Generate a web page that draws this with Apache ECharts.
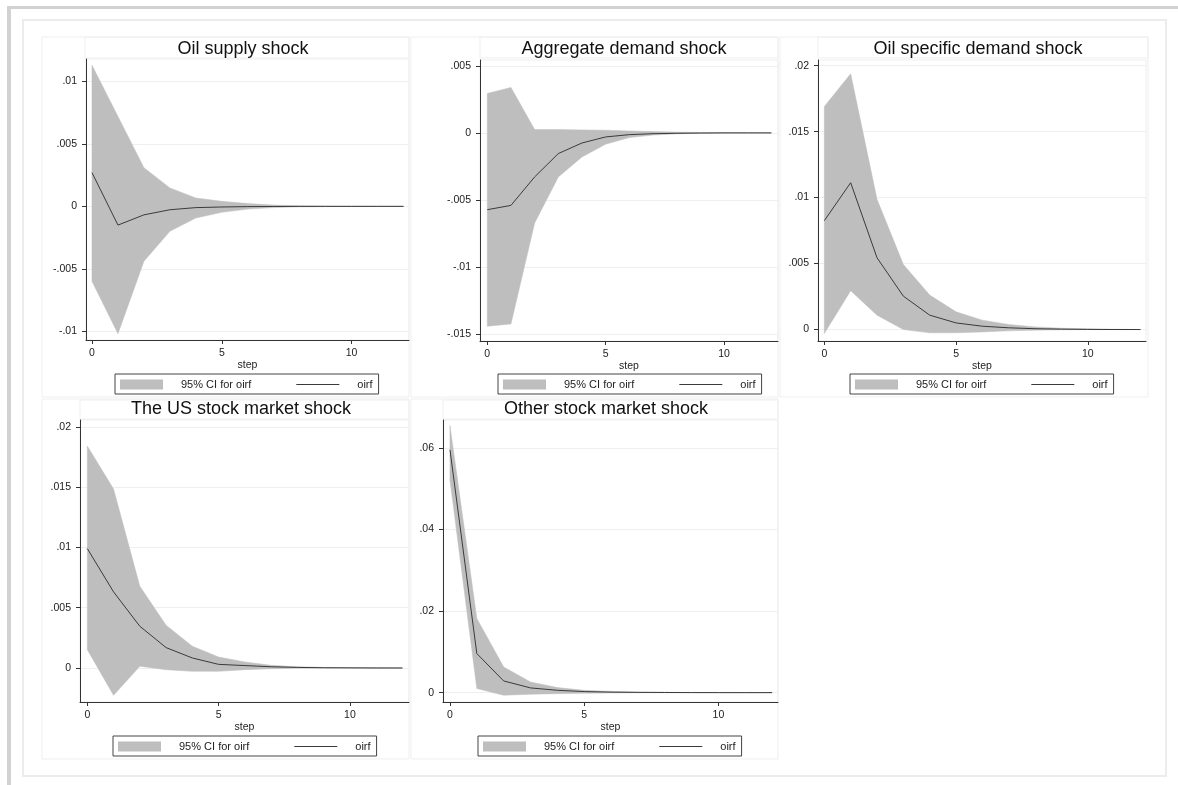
<!DOCTYPE html>
<html>
<head>
<meta charset="utf-8">
<script src="https://cdn.jsdelivr.net/npm/echarts@6/dist/echarts.min.js"></script>
<style>
  html, body { margin: 0; padding: 0; background: #fff; }
  #chart { width: 1178px; height: 785px; }
</style>
</head>
<body>
<div id="chart"></div>
<script>
// steps of the impulse response
const steps = [0, 1, 2, 3, 4, 5, 6, 7, 8, 9, 10, 11, 12]

const titles = [
  'Oil supply shock',
  'Aggregate demand shock',
  'Oil specific demand shock',
  'The US stock market shock',
  'Other stock market shock',
]

// oirf + 95% CI
const supplyIrf = [0.0027, -0.0015, -0.00068, -0.00027, -0.0001, -0.00005, -0.00002, -0.00001, 0, 0, 0, 0, 0]
const supplyHi = [0.0113, 0.0072, 0.0031, 0.00148, 0.00067, 0.0004, 0.00022, 0.0001, 0.00005, 0.00003, 0.00002, 0.00001, 0]
const supplyLo = [-0.006, -0.0102, -0.0044, -0.002, -0.00093, -0.00048, -0.00022, -0.0001, -0.00004, -0.00002, -0.00001, 0, 0]

const aggIrf = [-0.00572, -0.0054, -0.00328, -0.00154, -0.00075, -0.0003, -0.00013, -0.00006, -0.00003, -0.00001, 0, 0, 0]
const aggHi = [0.00294, 0.00339, 0.00025, 0.00025, 0.00022, 0.0002, 0.00014, 0.0001, 0.00006, 0.00003, 0.00001, 0, 0]
const aggLo = [-0.0144, -0.01423, -0.00672, -0.00328, -0.00179, -0.00084, -0.00035, -0.00016, -0.00007, -0.00003, -0.00001, 0, 0]

const oilDemIrf = [0.00825, 0.01113, 0.00544, 0.00253, 0.00109, 0.0005, 0.00025, 0.00013, 0.00006, 0.00003, 0.00001, 0, 0]
const oilDemHi = [0.0169, 0.01938, 0.00987, 0.00493, 0.00261, 0.00134, 0.00071, 0.00038, 0.0002, 0.0001, 0.00005, 0.00002, 0]
const oilDemLo = [-0.0003, 0.00294, 0.00109, 0, -0.00025, -0.00025, -0.00018, -0.0001, -0.00005, -0.00002, 0, 0, 0]

const usIrf = [0.0099, 0.00631, 0.00346, 0.00169, 0.00083, 0.0003, 0.0002, 0.0001, 0.00005, 0.00002, 0.00001, 0, 0]
const usHi = [0.0184, 0.01483, 0.00678, 0.00354, 0.0018, 0.00091, 0.0005, 0.00022, 0.0001, 0.00005, 0.00002, 0.00001, 0]
const usLo = [0.00152, -0.00227, 0.00014, -0.00014, -0.00028, -0.00028, -0.00014, -0.00006, -0.00002, -0.00001, 0, 0, 0]

const otherIrf = [0.0595, 0.00957, 0.00286, 0.00115, 0.00057, 0.00025, 0.00012, 0.00006, 0.00003, 0.00001, 0, 0, 0]
const otherHi = [0.0654, 0.01816, 0.0063, 0.0026, 0.00123, 0.00057, 0.0003, 0.00015, 0.00008, 0.00004, 0.00002, 0.00001, 0]
const otherLo = [0.0521, 0.001, -0.00065, -0.0004, -0.00025, -0.00016, -0.00008, -0.00004, -0.00002, -0.00001, 0, 0, 0]

const xTicks = [0, 5, 10]
const yTicks = [
  [-0.01, -0.005, 0, 0.005, 0.01],
  [-0.015, -0.01, -0.005, 0, 0.005],
  [0, 0.005, 0.01, 0.015, 0.02],
  [0, 0.005, 0.01, 0.015, 0.02],
  [0, 0.02, 0.04, 0.06],
]

const irfs = [supplyIrf, aggIrf, oilDemIrf, usIrf, otherIrf]
const his = [supplyHi, aggHi, oilDemHi, usHi, otherHi]
const los = [supplyLo, aggLo, oilDemLo, usLo, otherLo]

// layout of each panel (pixels) and axis extents
const layout = [
  { panel: [42, 37, 367, 360], tbox: [85, 37, 324, 21], tx: 243, ty: 39, grid: [86, 59, 323, 281], xr: [-0.231, 12.21], yr: [-0.0107, 0.0118], leg: [115, 374] },
  { panel: [411, 37, 367, 360], tbox: [480, 37, 298, 21], tx: 624, ty: 39, grid: [480, 60, 298, 281], xr: [-0.308, 12.28], yr: [-0.0155, 0.00543], leg: [498, 374] },
  { panel: [780, 37, 368, 360], tbox: [818, 37, 330, 21], tx: 978, ty: 39, grid: [818, 60, 328, 281], xr: [-0.24, 12.21], yr: [-0.00087, 0.02043], leg: [850, 374] },
  { panel: [42, 399, 367, 360], tbox: [80, 400, 329, 19], tx: 241, ty: 399, grid: [80, 420, 329, 282], xr: [-0.278, 12.25], yr: [-0.00282, 0.02056], leg: [113, 736] },
  { panel: [411, 399, 367, 360], tbox: [443, 400, 335, 19], tx: 606, ty: 399, grid: [443, 420, 335, 282], xr: [-0.26, 12.22], yr: [-0.0023, 0.0668], leg: [478, 736] },
]

const FONT = 'Liberation Sans, Arial, sans-serif'
const BAND = '#bebebe'
const LINE = '#3a3a3a'
const CI_NAME = '95% CI for oirf'

function fmtTick(v) {
  if (v === 0) return '0'
  return String(v).replace('0.', '.')
}

// whole CI band as one polygon: upper edge forward, lower edge back
function bandRenderer(lo, hi) {
  return function (params, api) {
    if (params.dataIndex !== 0) return null
    const pts = []
    steps.forEach((s, k) => pts.push(api.coord([s, hi[k]])))
    for (let k = steps.length - 1; k >= 0; k--) pts.push(api.coord([steps[k], lo[k]]))
    return {
      type: 'polygon',
      shape: { points: pts },
      style: { fill: BAND, stroke: BAND, lineWidth: 0.5 },
    }
  }
}

const grid = [], xAxis = [], yAxis = [], series = [], title = [], legend = [], graphic = []

// stata-like frame
graphic.push({ type: 'rect', shape: { x: 7, y: 6, width: 1171, height: 3 }, style: { fill: '#d2d2d2' }, silent: true })
graphic.push({ type: 'rect', shape: { x: 7, y: 6, width: 4, height: 779 }, style: { fill: '#d2d2d2' }, silent: true })
graphic.push({ type: 'rect', shape: { x: 23, y: 20, width: 1143, height: 756 }, style: { fill: 'none', stroke: '#ececec', lineWidth: 2 }, silent: true })

layout.forEach((L, i) => {
  graphic.push({ type: 'rect', shape: { x: L.panel[0], y: L.panel[1], width: L.panel[2], height: L.panel[3] }, style: { fill: 'none', stroke: '#efefef', lineWidth: 1 }, silent: true })
  graphic.push({ type: 'rect', shape: { x: L.tbox[0], y: L.tbox[1], width: L.tbox[2], height: L.tbox[3] }, style: { fill: 'none', stroke: '#efefef', lineWidth: 1 }, silent: true })

  grid.push({ left: L.grid[0], top: L.grid[1], width: L.grid[2], height: L.grid[3], show: true, borderColor: '#eeeeee', borderWidth: 1, backgroundColor: '#fff' })

  xAxis.push({
    type: 'value', gridIndex: i, min: L.xr[0], max: L.xr[1],
    name: 'step', nameLocation: 'middle', nameGap: 17,
    nameTextStyle: { fontFamily: FONT, fontSize: 10.5, color: '#222' },
    axisLine: { show: true, onZero: false, lineStyle: { color: '#333', width: 1 } },
    axisTick: { show: true, length: 4, customValues: xTicks, lineStyle: { color: '#333' } },
    axisLabel: { customValues: xTicks, margin: 8, fontFamily: FONT, fontSize: 10.5, color: '#222' },
    splitLine: { show: false },
  })

  yAxis.push({
    type: 'value', gridIndex: i, min: L.yr[0], max: L.yr[1],
    axisLine: { show: true, onZero: false, lineStyle: { color: '#333', width: 1 } },
    axisTick: { show: true, length: 4, customValues: yTicks[i], lineStyle: { color: '#333' } },
    axisLabel: { customValues: yTicks[i], margin: 9, fontFamily: FONT, fontSize: 10.5, color: '#222', formatter: fmtTick },
    splitLine: { show: true, lineStyle: { color: '#eef0f0', width: 1 } },
  })

  title.push({
    text: titles[i], left: L.tx, top: L.ty + 1, textAlign: 'center', padding: 0,
    textStyle: { fontFamily: FONT, fontSize: 18, fontWeight: 'normal', color: '#111' },
  })

  legend.push({
    left: L.leg[0], top: L.leg[1], orient: 'horizontal',
    selectedMode: false,
    padding: [5, 6, 4, 5],
    borderColor: '#444', borderWidth: 1, backgroundColor: '#fff',
    itemWidth: 43, itemHeight: 10, itemGap: 45,
    textStyle: { fontFamily: FONT, fontSize: 11, color: '#222', padding: [0, 0, 0, 13] },
    data: [
      { name: CI_NAME, icon: 'rect', itemStyle: { color: BAND } },
      { name: 'oirf', icon: 'path://M0,0H43V1H0Z', itemStyle: { color: LINE } },
    ],
  })

  const lo = los[i], hi = his[i], irf = irfs[i]
  series.push({
    name: CI_NAME, type: 'custom', xAxisIndex: i, yAxisIndex: i,
    data: steps.map((s, k) => [s, lo[k], hi[k]]),
    encode: { x: 0, y: [1, 2] },
    renderItem: bandRenderer(lo, hi),
    itemStyle: { color: BAND },
    silent: true,
  })
  series.push({
    name: 'oirf', type: 'line', xAxisIndex: i, yAxisIndex: i,
    data: steps.map((s, k) => [s, irf[k]]),
    symbol: 'none', color: LINE,
    lineStyle: { color: LINE, width: 1 },
    silent: true, z: 5,
  })
})

const chart = echarts.init(document.getElementById('chart'), null, { renderer: 'canvas' })
chart.setOption({
  animation: false,
  backgroundColor: '#fff',
  title, legend, grid, xAxis, yAxis, series, graphic,
})
</script>
</body>
</html>
